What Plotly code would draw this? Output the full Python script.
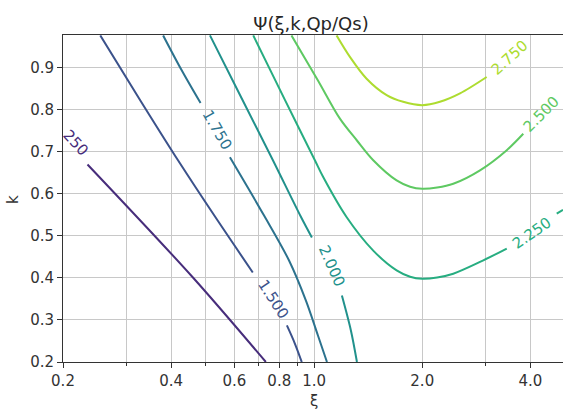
import math
import plotly.graph_objects as go

# ---- data (xi, k) ----
levels = [1.25, 1.5, 1.75, 2.0, 2.25, 2.5, 2.75]
label_texts = ["250", "1.500", "1.750", "2.000", "2.250", "2.500", "2.750"]

# each level may have several visible segments (gaps are where labels sit)
c125_xi = [[0.234, 0.460, 0.734]]
c125_k = [[0.670, 0.401, 0.200]]

c150_xi = [[0.254, 0.328, 0.418, 0.527, 0.675], [0.840, 0.884, 0.924]]
c150_k = [[0.977, 0.823, 0.680, 0.549, 0.413], [0.287, 0.244, 0.200]]

c175_xi = [[0.380, 0.428, 0.483], [0.583, 0.725, 0.851, 0.949, 1.025, 1.086]]
c175_k = [[0.977, 0.894, 0.816], [0.687, 0.549, 0.442, 0.346, 0.263, 0.200]]

c200_xi = [[0.513, 0.629, 0.768, 0.918, 0.986], [1.195, 1.266, 1.316]]
c200_k = [[0.977, 0.827, 0.680, 0.546, 0.496], [0.358, 0.275, 0.200]]

c225_xi = [[0.677, 0.830, 1.005, 1.060, 1.231, 1.461, 1.697, 1.85, 2.0, 2.2, 2.440, 2.896, 3.438],
           [4.736, 4.93]]
c225_k = [[0.977, 0.823, 0.680, 0.640, 0.545, 0.465, 0.418, 0.403, 0.398, 0.401, 0.410, 0.438, 0.470],
          [0.553, 0.562]]

c250_xi = [[0.865, 1.025, 1.180, 1.316, 1.461, 1.697, 1.85, 2.0, 2.2, 2.440, 2.896, 3.438, 3.822]]
c250_k = [[0.977, 0.870, 0.779, 0.727, 0.680, 0.632, 0.617, 0.612, 0.615, 0.624, 0.656, 0.704, 0.743]]

c275_xi = [[1.155, 1.258, 1.400, 1.592, 1.770, 2.0, 2.240, 2.548, 3.023]]
c275_k = [[0.977, 0.926, 0.874, 0.835, 0.819, 0.811, 0.819, 0.839, 0.878]]

# label positions (xi, k) and rotations
label_xi = [0.217, 0.769, 0.538, 1.119, 4.04, 4.30, 3.488]
label_k = [0.720, 0.350, 0.753, 0.428, 0.508, 0.789, 0.924]
label_angle = [47, 57, 60, 66, -35, -45, -42]

colors = ["#472d7b", "#3b528b", "#2c728e", "#21918c", "#27ad81", "#5ec962", "#addc30"]

x_major = [0.2, 0.4, 0.6, 0.8, 1.0, 2.0, 4.0]
x_major_text = ["0.2", "0.4", "0.6", "0.8", "1.0", "2.0", "4.0"]
x_minor = [0.3, 0.5, 0.7, 0.9, 3.0]

curves_xi = [c125_xi, c150_xi, c175_xi, c200_xi, c225_xi, c250_xi, c275_xi]
curves_k = [c125_k, c150_k, c175_k, c200_k, c225_k, c250_k, c275_k]

FONT = "DejaVu Sans"
TXT = "#333333"
W, H = 563, 413
ML, MT, MB = 63, 35, 51
plot_w = W - ML
plot_h = H - MT - MB

fig = go.Figure()
for lev, segs_x, segs_y, col in zip(levels, curves_xi, curves_k, colors):
    for sx, sy in zip(segs_x, segs_y):
        fig.add_trace(go.Scatter(x=sx, y=sy, mode="lines",
                                 line=dict(color=col, width=2, shape="spline", smoothing=0.9),
                                 showlegend=False, hoverinfo="skip"))

for t, lx, ly, ang, col in zip(label_texts, label_xi, label_k, label_angle, colors):
    fig.add_annotation(x=math.log10(lx), y=ly, xref="x", yref="y", text=t,
                       showarrow=False, textangle=ang,
                       font=dict(family=FONT, size=15, color=col))

# axis titles (placed by pixel position, converted to paper coords)
fig.add_annotation(x=(314 - ML) / plot_w, y=-(401 - (H - MB)) / plot_h,
                   xref="paper", yref="paper", text="ξ", showarrow=False,
                   xanchor="center", yanchor="middle",
                   font=dict(family=FONT, size=15, color=TXT))
fig.add_annotation(x=-(ML - 13) / plot_w, y=(H - MB - 200) / plot_h,
                   xref="paper", yref="paper", text="k", showarrow=False,
                   xanchor="center", yanchor="middle", textangle=-90,
                   font=dict(family=FONT, size=15, color=TXT))

fig.update_layout(
    width=W, height=H,
    margin=dict(l=ML, r=0, t=MT, b=MB, autoexpand=False),
    paper_bgcolor="white", plot_bgcolor="white",
    title=dict(text="Ψ(ξ,k,Qp/Qs)", x=311 / W, xanchor="center", y=1 - 24 / H, yanchor="middle",
               font=dict(family=FONT, size=18, color="#262626")),
    font=dict(family=FONT, size=15, color=TXT),
)

fig.update_xaxes(
    type="log", range=[math.log10(0.2), math.log10(4.93)], automargin=False,
    tickmode="array", tickvals=x_major, ticktext=x_major_text,
    ticks="outside", ticklen=5, tickwidth=1, tickcolor=TXT,
    showgrid=True, gridcolor="#c8c8c8", gridwidth=1,
    minor=dict(tickmode="array", tickvals=x_minor, ticks="outside", ticklen=3,
               tickcolor=TXT, showgrid=True, gridcolor="#c8c8c8", gridwidth=1),
    showline=True, linecolor=TXT, linewidth=1, mirror=True,
    zeroline=False,
    tickfont=dict(family=FONT, size=15, color=TXT),
)
fig.update_yaxes(
    range=[0.2, 0.978], tick0=0.2, dtick=0.1, tickformat=".1f", automargin=False,
    ticks="outside", ticklen=5, tickwidth=1, tickcolor=TXT,
    showgrid=True, gridcolor="#c8c8c8", gridwidth=1,
    showline=True, linecolor=TXT, linewidth=1,
    zeroline=False,
    tickfont=dict(family=FONT, size=15, color=TXT),
)

fig.write_html("out.html", config={"displayModeBar": False},
               post_script="document.body.style.margin='0';document.body.style.overflow='hidden';")
